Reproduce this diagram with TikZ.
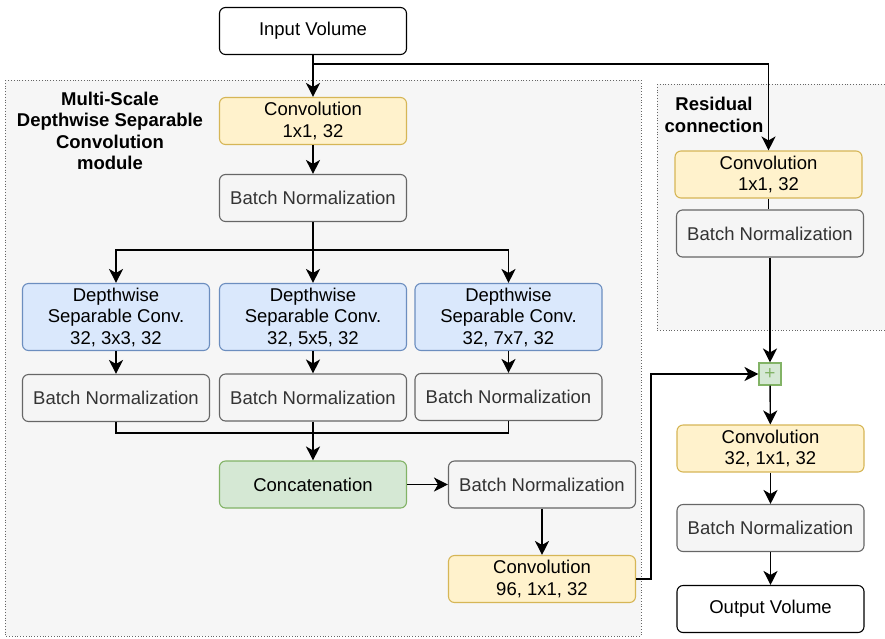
\documentclass[tikz,border=0pt]{standalone}
\usepackage{fontspec}
\setmainfont{Liberation Sans}
\usetikzlibrary{arrows.meta}
\definecolor{yfill}{HTML}{FFF2CC}\definecolor{ydraw}{HTML}{D6B656}
\definecolor{bfill}{HTML}{DAE8FC}\definecolor{bdraw}{HTML}{6C8EBF}
\definecolor{gfill}{HTML}{D5E8D4}\definecolor{gdraw}{HTML}{82B366}
\definecolor{nfill}{HTML}{F5F5F5}\definecolor{ndraw}{HTML}{666666}\definecolor{ntext}{HTML}{333333}
\definecolor{cfill}{HTML}{F6F6F6}
\begin{document}
\begin{tikzpicture}[x=1pt,y=-1pt,
  box/.style={rectangle,rounded corners=6pt,line width=1.1pt,minimum width=187pt,minimum height=47pt,align=center,inner sep=0pt,
    font=\fontsize{18.5}{21.5}\selectfont},
  convbox/.style={box,fill=yfill,draw=ydraw},
  dsbox/.style={box,fill=bfill,draw=bdraw,minimum height=67pt},
  catbox/.style={box,fill=gfill,draw=gdraw},
  bnbox/.style={box,fill=nfill,draw=ndraw,text=ntext},
  iobox/.style={box,fill=white,draw=black},
  title/.style={align=center,font=\fontsize{18.5}{21.5}\selectfont\bfseries,inner sep=0pt},
  cont/.style={fill=cfill,draw=ndraw,line width=0.8pt,dotted},
  link/.style={line width=1.4pt,black},
  arr/.style={link,-{Stealth[length=14pt,width=14pt,inset=4pt]}}
]
\useasboundingbox (0,0) rectangle (885,638);
% containers
\path[cont] (5,80) rectangle (641,636);
\begin{scope}
\clip (0,0) rectangle (885,638);
\path[cont] (657,84) rectangle (900,330);
\end{scope}
\node[title] (t1) at (110,131) {Multi-Scale\\Depthwise Separable\\Convolution\\module};
\node[title] (t2) at (714,115) {Residual\\connection};
% nodes
\node[iobox] (in) at (313,31) {Input Volume};
\node[convbox] (c1) at (313,121) {Convolution\\1x1, 32};
\node[bnbox] (bn1) at (313,198) {Batch Normalization};
\node[dsbox] (ds1) at (116,317) {Depthwise\\Separable Conv.\\32, 3x3, 32};
\node[dsbox] (ds2) at (313,317) {Depthwise\\Separable Conv.\\32, 5x5, 32};
\node[dsbox] (ds3) at (508.5,317) {Depthwise\\Separable Conv.\\32, 7x7, 32};
\node[bnbox] (b1) at (116,398) {Batch Normalization};
\node[bnbox] (b2) at (313,397.5) {Batch Normalization};
\node[bnbox] (b3) at (508.5,397) {Batch Normalization};
\node[catbox] (cat) at (313,484.5) {Concatenation};
\node[bnbox] (bnc) at (542,484.5) {Batch Normalization};
\node[convbox] (c96) at (542,579) {Convolution\\96, 1x1, 32};
\node[convbox] (cr) at (768.5,174.5) {Convolution\\1x1, 32};
\node[bnbox] (bnr) at (770,233.5) {Batch Normalization};
\node[rectangle,fill=gfill,draw=gdraw,line width=1.1pt,minimum width=22pt,minimum height=22pt,inner sep=0pt,text=gdraw,font=\fontsize{19}{19}\selectfont] (plus) at (770,374) {+};
\node[convbox] (c32) at (770.5,448.5) {Convolution\\32, 1x1, 32};
\node[bnbox] (bnf) at (770.5,528) {Batch Normalization};
\node[iobox] (out) at (770.5,609) {Output Volume};
% connectors
\coordinate (sp) at (313,64);
\draw[arr] (in) -- (c1);
\draw[arr] (sp) -| (cr.north);
\draw[arr] (c1) -- (bn1);
\coordinate (br) at (313,250);
\draw[link] (bn1.south) -- (br);
\draw[arr] (br) -| (ds1.north);
\draw[arr] (br) -- (ds2.north);
\draw[arr] (br) -| (ds3.north);
\draw[arr] (ds1) -- (b1);
\draw[arr] (ds2) -- (b2);
\draw[arr] (ds3) -- (b3);
\coordinate (mg) at (313,433);
\draw[link] (b1.south) |- (mg);
\draw[link] (b3.south) |- (mg);
\draw[link] (b2.south) -- (mg);
\draw[arr] (mg) -- (cat.north);
\draw[arr] (cat) -- (bnc);
\draw[arr] (bnc) -- (c96);
\coordinate (k1) at (651,579);
\coordinate (k2) at (651,374);
\draw[arr] (c96.east) -- (k1) -- (k2) -- (plus.west);
\draw[link] (cr.south) -- (cr.south |- bnr.north);
\draw[arr] (bnr) -- (plus);
\draw[arr] (plus) -- (c32);
\draw[arr] (c32) -- (bnf);
\draw[arr] (bnf) -- (out);
\end{tikzpicture}
\end{document}
